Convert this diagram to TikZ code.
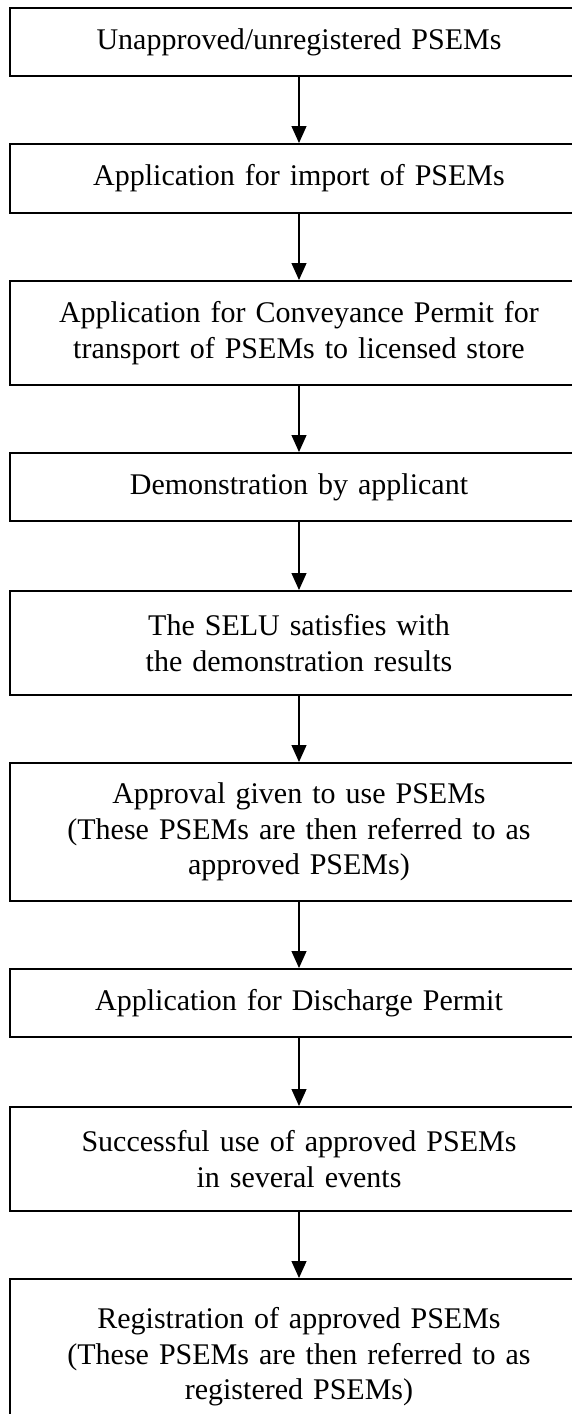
\documentclass[tikz,border=0pt]{standalone}
\usepackage{fontspec}
\setmainfont{Liberation Serif}
\usetikzlibrary{arrows.meta}
\tikzset{
  flowbox/.style={draw=black, line width=1.8pt, rectangle, anchor=north,
    minimum width=578pt, inner sep=0pt, text width=560pt, align=center,
    font=\fontsize{30}{35.5}\selectfont},
  flowarrow/.style={draw=black, line width=1.2pt, -{Triangle[width=15pt,length=17pt]}}
}
\begin{document}
\begin{tikzpicture}[x=1pt,y=1pt]
\clip (0,0) rectangle (572,-1414);
\fill[white] (0,0) rectangle (572,-1414);
\node[flowbox, minimum height=68pt]  (b1) at (299,-7)    {Unapproved/unregistered PSEMs};
\node[flowbox, minimum height=69pt]  (b2) at (299,-143)  {Application for import of PSEMs};
\node[flowbox, minimum height=104pt] (b3) at (299,-280)  {Application for Conveyance Permit for\\transport of PSEMs to licensed store};
\node[flowbox, minimum height=68pt]  (b4) at (299,-452)  {Demonstration by applicant};
\node[flowbox, minimum height=104pt] (b5) at (299,-590)  {The SELU satisfies with\\the demonstration results};
\node[flowbox, minimum height=138pt] (b6) at (299,-762)  {Approval given to use PSEMs\\(These PSEMs are then referred to as\\approved PSEMs)};
\node[flowbox, minimum height=68pt]  (b7) at (299,-968)  {Application for Discharge Permit};
\node[flowbox, minimum height=104pt] (b8) at (299,-1106) {Successful use of approved PSEMs\\in several events};
\node[flowbox, minimum height=156pt] (b9) at (299,-1278) {Registration of approved PSEMs\\(These PSEMs are then referred to as\\registered PSEMs)};
\draw[flowarrow] (b1.south) -- (b2.north);
\draw[flowarrow] (b2.south) -- (b3.north);
\draw[flowarrow] (b3.south) -- (b4.north);
\draw[flowarrow] (b4.south) -- (b5.north);
\draw[flowarrow] (b5.south) -- (b6.north);
\draw[flowarrow] (b6.south) -- (b7.north);
\draw[flowarrow] (b7.south) -- (b8.north);
\draw[flowarrow] (b8.south) -- (b9.north);
\end{tikzpicture}
\end{document}
